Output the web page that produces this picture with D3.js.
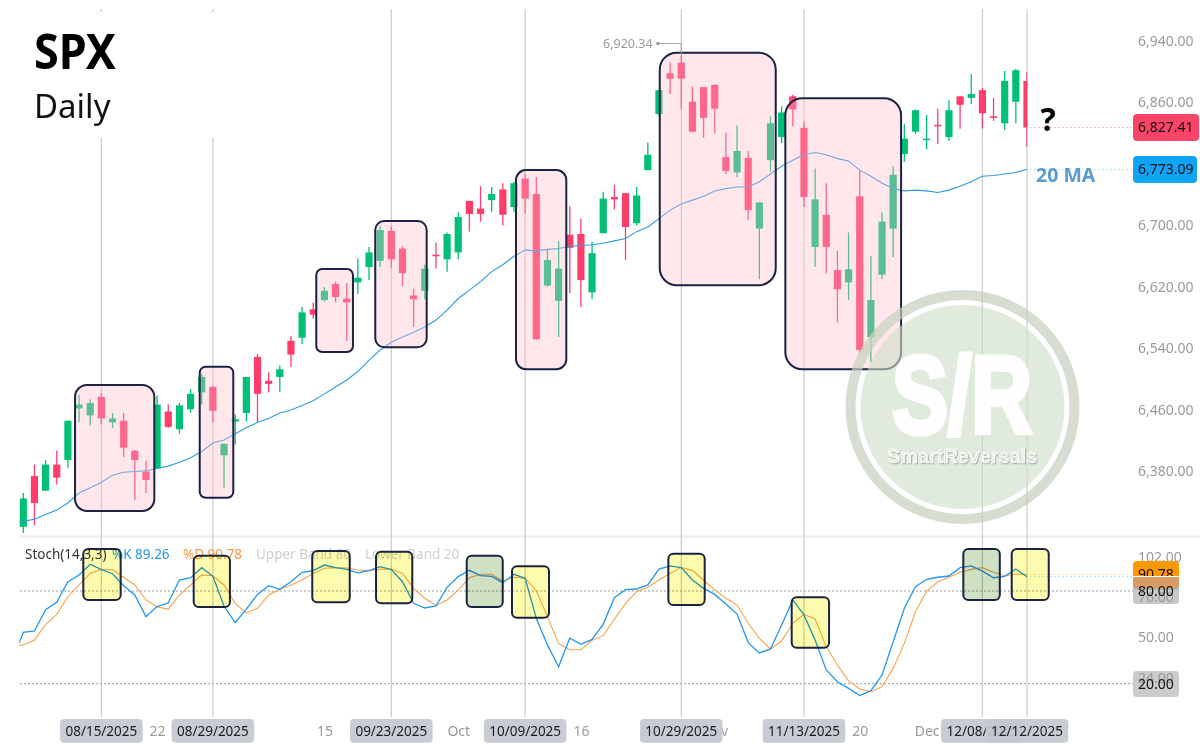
<!DOCTYPE html>
<html>
<head>
<meta charset="utf-8">
<title>SPX Daily</title>
<script src="https://cdn.jsdelivr.net/npm/d3@7"></script>
<style>
    body { margin: 0; background: #fff; }
    svg { display: block; font-family: "Noto Sans", sans-serif; }
</style>
</head>
<body>
<script>
'use strict';
// trading days, index 0 is 08/06/2025
const opens = [6308,6374,6355,6389,6395,6462,6453,6477,6444,6446,
    6407,6380,6384,6458,6435,6461,6483,6490,6401,6445,
    6456,6529,6498,6503,6550,6554,6591,6603,6624,6605,
    6626,6646,6654,6693,6670,6609,6615,6662,6656,6665,
    6732,6722,6733,6747,6724,6761,6741,6622,6602,6688,
    6689,6613,6690,6737,6742,6703,6772,6845,6898,6912,
    6861,6880,6883,6789,6769,6788,6696,6785,6815,6868,
    6827,6672,6714,6642,6626,6738,6555,6636,6696,6793,
    6822,6812,6831,6815,6868,6866,6876,6842,6833,6861,6888]
const highs = [6352,6389,6395,6407,6446,6480,6474,6482,6456,6456,
    6408,6394,6479,6467,6469,6487,6507,6492,6416,6454,
    6503,6533,6509,6518,6556,6594,6600,6620,6627,6625,
    6657,6672,6699,6699,6673,6618,6649,6678,6691,6718,
    6732,6751,6750,6755,6757,6767,6763,6668,6680,6725,
    6709,6679,6744,6753,6742,6750,6808,6876,6912,6920.34,
    6881,6880,6883,6821,6830,6797,6730,6842,6855,6870,
    6835,6774,6755,6667,6691,6771,6660,6717,6777,6832,
    6851,6844,6852,6863,6868,6897,6879,6866,6901,6904,6900]
const lows = [6300,6310,6355,6363,6385,6444,6440,6441,6437,6399,
    6343,6352,6384,6437,6429,6456,6467,6444,6359,6415,
    6445,6443,6483,6483,6516,6546,6579,6601,6600,6550,
    6611,6629,6646,6645,6621,6568,6604,6644,6640,6656,
    6692,6705,6718,6700,6718,6716,6551,6620,6555,6612,
    6594,6604,6690,6721,6655,6700,6772,6842,6871,6852,
    6821,6814,6820,6767,6763,6707,6630,6770,6807,6829,
    6724,6646,6638,6574,6603,6534,6522,6630,6659,6783,
    6819,6799,6806,6810,6826,6858,6826,6836,6824,6833,6802]
const closes = [6345,6339,6389,6372,6446,6467,6469,6449,6449,6411,
    6395,6369,6467,6438,6466,6481,6503,6459,6416,6448,
    6503,6481,6494,6513,6532,6587,6584,6615,6607,6600,
    6632,6665,6694,6656,6638,6604,6644,6660,6689,6711,
    6715,6715,6741,6714,6755,6735,6552,6655,6644,6671,
    6629,6664,6735,6734,6698,6739,6792,6876,6891,6891,
    6822,6840,6852,6771,6797,6720,6730,6833,6847,6851,
    6737,6734,6672,6617,6643,6538,6603,6705,6766,6813,
    6850,6813,6829,6850,6857,6871,6846,6840,6888,6902,6827.41]
// first value of the next three series is the day before index 0, cut off by the chart edge
const ma20 = [6313,6315,6318,6324,6330,6339,6352,6359,6366,6375,6379,
    6380,6381,6384,6387,6392,6398,6406,6417,6421,6429,
    6437,6444,6449,6456,6460,6466,6472,6481,6490,6499,
    6510,6525,6538,6548,6555,6561,6568,6577,6590,6605,
    6616,6627,6640,6649,6660,6668,6667,6669,6670,6673,
    6674,6675,6677,6680,6683,6692,6698,6709,6720,6728,
    6733,6738,6745,6748,6750,6750,6757,6767,6777,6785,
    6792,6795,6792,6787,6784,6772,6764,6755,6748,6745,
    6746,6745,6743,6746,6751,6757,6764,6765,6767,6769,6773.09]
const stochK = [35.1,53.3,54.1,67.9,72.7,86.0,90.4,97.3,93.8,91.2,83.4,
    77.4,63.4,69.9,72.4,87.1,88.6,95.1,89.5,70.1,59.5,
    68.3,77.8,83.4,81.1,86.0,92.1,93.2,96.8,95.1,94.0,
    91.7,93.2,95.8,93.8,86.0,72.0,69.0,70.3,82.4,89.3,
    93.4,89.9,89.5,85.4,90.8,88.2,62.3,45.1,31.0,49.4,
    45.5,48.7,58.6,75.7,80.9,81.3,83.9,94.2,96.2,95.1,
    87.1,81.7,77.8,71.6,65.1,46.6,39.9,42.5,58.0,74.2,
    64.5,48.3,28.9,21.3,17.0,12.3,15.5,25.6,47.2,68.8,
    82.8,87.6,88.9,89.7,95.1,96.2,92.9,88.6,89.5,94.2,89.26]
const stochD = [43.8,45.1,48.3,58.4,64.9,76.3,83.9,91.4,94.0,93.8,88.9,
    83.9,74.2,69.7,68.3,77.4,83.9,90.4,89.9,83.9,72.0,
    65.8,68.8,77.4,81.1,83.9,87.1,91.4,94.7,95.1,94.9,
    93.6,93.2,94.0,94.2,91.4,81.7,75.3,70.5,74.2,80.6,
    88.6,90.8,90.8,86.5,88.9,88.2,80.2,63.4,45.9,42.0,
    42.0,48.1,51.1,61.7,72.0,79.6,82.4,87.1,91.4,95.3,
    93.2,87.1,80.7,75.3,70.9,59.1,49.4,42.5,47.6,59.1,
    64.9,61.9,44.0,32.1,21.8,16.6,14.8,18.1,29.9,46.1,
    66.6,80.0,86.0,88.9,92.1,94.0,95.1,92.1,89.9,90.8,90.78]

const priceTicks = [6940,6860,6780,6700,6620,6540,6460,6380]
const stochTopTick = [102]
const stochTicks = [76,50,24]
const stochBands = [80,20]
const dateTicks = [12,27,39,50,56,62,75,81,93]
const dateTickLabels = ["22","15","Oct","16","24","Nov","20","Dec","17"]
const markedDays = [7,17,33,45,59,70,86,90]
const markedDates = ["08/15/2025","08/29/2025","09/23/2025","10/09/2025","10/29/2025","11/13/2025","12/08/2025","12/12/2025"]

// hand drawn boxes from the annotated screenshot: [first, high, last, low, radius] in chart units
const pinkBoxes = [[4.64,6492.5,11.75,6328.6,12],[15.82,6516.3,18.83,6345.9,6],[26.27,6643.4,29.56,6535.5,6],[31.56,6705.9,36.17,6541.6,9],
    [44.18,6772.2,48.69,6513,10],[57.07,6924.8,67.47,6622.2,17],[68.33,6865.5,78.71,6513,17]]
const noteBoxes = [[5.38,107.2,8.73,74.2,0],[15.28,102.8,18.53,69.6,0],[25.91,105.9,29.27,72.7,0],[31.63,105.4,34.88,72,0],
    [39.76,102.8,42.99,69.6,1],[43.82,96,47.14,62.7,0],[57.84,104.1,61.1,70.9,0],[68.9,75.9,72.25,43.3,0],
    [84.29,107.2,87.56,74.2,1],[88.63,107.2,91.95,74.2,0]]

const width = 1200
const height = 747

let svg = d3.select("body").append("svg").attr("width", width).attr("height", height)

let x = d3.scaleLinear().domain([0, 90]).range([23.3, 1027])
let y = d3.scaleLinear().domain([6940, 6380]).range([41, 471.5])
let yStoch = d3.scaleLinear().domain([0, 100]).range([714.6, 560.1])

svg.append("defs").append("clipPath").attr("id", "plot")
    .append("rect").attr("x", 19.3).attr("y", 0).attr("width", 1008).attr("height", 717)

// grid
svg.append("line").attr("x1", 20).attr("x2", width).attr("y1", 536.5).attr("y2", 536.5)
    .attr("stroke", "#ececec").attr("stroke-width", 2)

svg.append("g").selectAll("line")
    .data(markedDays)
    .enter()
    .append("line")
    .attr("x1", d => x(d)).attr("x2", d => x(d))
    .attr("y1", 9).attr("y2", 717)
    .attr("stroke", "#cfcfcf").attr("stroke-width", 1.3)

// title sits on a white patch that hides the top of the first lines
svg.append("rect").attr("y", 12).attr("width", 300).attr("height", 126).attr("fill", "#fff")
svg.append("text").text("SPX").attr("x", 34).attr("y", 69)
    .attr("textLength", 82).attr("lengthAdjust", "spacingAndGlyphs")
    .attr("font-size", 49).attr("font-weight", 700).attr("fill", "#000")
svg.append("text").text("Daily").attr("x", 34).attr("y", 118)
    .attr("font-size", 33).attr("fill", "#111")

// axes
function cleanAxis(g) {
    g.select(".domain").remove()
    g.selectAll("text").attr("fill", "#9a9a9a").attr("font-size", 14)
        .attr("font-family", '"Noto Sans", sans-serif').attr("x", 0)
}
let priceAxis = d3.axisRight(y).tickValues(priceTicks).tickFormat(d3.format(",.2f")).tickSize(0)
svg.append("g").attr("transform", "translate(1138,0)").call(priceAxis).call(cleanAxis)
let stochTopAxis = d3.axisRight(yStoch).tickValues(stochTopTick).tickFormat(d3.format(".2f")).tickSize(0)
svg.append("g").attr("transform", "translate(1138,0)").call(stochTopAxis).call(cleanAxis)
let dateAxis = d3.axisBottom(x).tickValues(dateTicks).tickFormat((d, i) => dateTickLabels[i]).tickSize(0)
svg.append("g").attr("transform", "translate(0,723)").call(dateAxis).call(cleanAxis)

// stochastic legend
const legendParts = [["Stoch(14,3,3)", 25, "#333"], ["%K 89.26", 112, "#2196f3"], ["%D 90.78", 183, "#f59a45"],
    ["Upper Band 80", 256, "#cfcfcf"], ["Lower Band 20", 365, "#cfcfcf"]]
svg.append("g").selectAll("text")
    .data(legendParts)
    .enter()
    .append("text")
    .text(d => d[0])
    .attr("x", d => d[1]).attr("y", 559)
    .attr("font-size", 13.5).attr("fill", d => d[2])

// bands
svg.append("g").selectAll("line")
    .data(stochBands)
    .enter()
    .append("line")
    .attr("x1", 20).attr("x2", 1133)
    .attr("y1", d => yStoch(d)).attr("y2", d => yStoch(d))
    .attr("stroke", "#9a9a9a").attr("stroke-dasharray", "2 2")

// dotted price lines towards the tags
const lastLines = [[y(closes[90]), "#f7c3cf"], [y(ma20[91]), "#bfe3fa"], [yStoch(stochD[91]), "#f8d9b5"], [yStoch(stochK[91]), "#bfe3fa"]]
svg.append("g").selectAll("line")
    .data(lastLines)
    .enter()
    .append("line")
    .attr("x1", 1030).attr("x2", 1133)
    .attr("y1", d => d[0]).attr("y2", d => d[0])
    .attr("stroke", d => d[1]).attr("stroke-dasharray", "2 2")

// candles
let plot = svg.append("g").attr("clip-path", "url(#plot)")
const green = "#00c077"
const red = "#ff3d6c"
let candle = plot.append("g").selectAll("g")
    .data(opens)
    .enter()
    .append("g")
    .attr("fill", (d, i) => closes[i] >= d ? green : red)
    .attr("stroke", (d, i) => closes[i] >= d ? green : red)
candle.append("line")
    .attr("x1", (d, i) => x(i)).attr("x2", (d, i) => x(i))
    .attr("y1", (d, i) => y(highs[i])).attr("y2", (d, i) => y(lows[i]))
    .attr("stroke-width", 1.3)
candle.append("rect")
    .attr("x", (d, i) => x(i) - 3.6).attr("width", 7.2)
    .attr("y", (d, i) => y(Math.max(d, closes[i])))
    .attr("height", (d, i) => Math.max(1.5, Math.abs(y(d) - y(closes[i]))))
    .attr("stroke", "none")

// moving average and stochastic lines
let maLine = d3.line().x((d, i) => x(i - 1)).y(d => y(d))
plot.append("path").datum(ma20).attr("d", maLine)
    .attr("fill", "none").attr("stroke", "#2d9be6").attr("stroke-width", 1.1)
let stochLine = d3.line().x((d, i) => x(i - 1)).y(d => yStoch(d))
plot.append("path").datum(stochD).attr("d", stochLine)
    .attr("fill", "none").attr("stroke", "#f7a24b").attr("stroke-width", 1.1)
plot.append("path").datum(stochK).attr("d", stochLine)
    .attr("fill", "none").attr("stroke", "#2196f3").attr("stroke-width", 1.3)

// pink boxes go over the candles and wash them out
svg.append("g").selectAll("rect")
    .data(pinkBoxes)
    .enter()
    .append("rect")
    .attr("x", d => x(d[0])).attr("y", d => y(d[1]))
    .attr("width", d => x(d[2]) - x(d[0])).attr("height", d => y(d[3]) - y(d[1]))
    .attr("rx", d => d[4])
    .attr("fill", "rgba(255,185,200,0.35)")
    .attr("stroke", "#1a2342").attr("stroke-width", 2)

svg.append("g").selectAll("rect")
    .data(noteBoxes)
    .enter()
    .append("rect")
    .attr("x", d => x(d[0])).attr("y", d => yStoch(d[1]))
    .attr("width", d => x(d[2]) - x(d[0])).attr("height", d => yStoch(d[3]) - yStoch(d[1]))
    .attr("rx", 5)
    .attr("fill", d => d[4] ? "#cfe0c3" : "#fdfcae")
    .style("mix-blend-mode", "multiply")
svg.append("g").selectAll("rect")
    .data(noteBoxes)
    .enter()
    .append("rect")
    .attr("x", d => x(d[0])).attr("y", d => yStoch(d[1]))
    .attr("width", d => x(d[2]) - x(d[0])).attr("height", d => yStoch(d[3]) - yStoch(d[1]))
    .attr("rx", 5)
    .attr("fill", "none")
    .attr("stroke", "#1a2342").attr("stroke-width", 2)

// high of the range
svg.append("text").text("6,920.34").attr("x", 603).attr("y", 47.5)
    .attr("font-size", 12.5).attr("fill", "#9a9a9a")
svg.append("path").attr("d", `M658,43.5H${x(59)}V${y(highs[59])}`)
    .attr("fill", "none").attr("stroke", "#a5a5a5")
svg.append("circle").attr("cx", 658).attr("cy", 43.5).attr("r", 1.8).attr("fill", "#9a9a9a")

// annotations
svg.append("text").text("?").attr("x", 1040.5).attr("y", 131)
    .attr("font-size", 32).attr("font-weight", 700).attr("fill", "#000")
svg.append("text").text("20 MA").attr("x", 1036).attr("y", 182)
    .attr("font-size", 19.5).attr("font-weight", 700).attr("fill", "#5b9bd5")

// last value tags, drawn in this order so they cover each other like the screenshot
function addTag(top, w, h, color, label, labelY) {
    svg.append("rect").attr("x", 1133).attr("y", top)
        .attr("width", w).attr("height", h).attr("rx", 4).attr("fill", color)
    if (label) {
        svg.append("text").text(label).attr("x", 1138).attr("y", labelY)
            .attr("dy", "0.35em").attr("font-size", 14).attr("fill", "#111")
    }
}
addTag(114, 66, 27, "#fb4468", "6,827.41", y(closes[90]))
addTag(156, 64, 27, "#0ea5f8", "6,773.09", y(ma20[91]))
addTag(561, 46, 28, "#ff9800", "90.78", yStoch(stochD[91]))
addTag(577, 46, 27, "#c9c9c9")
addTag(577, 46, 12, "#d99c68")
addTag(671, 46, 26, "#cbcbcb")
svg.append("line").attr("x1", 1133).attr("x2", 1179).attr("y1", 576.5).attr("y2", 576.5).attr("stroke", "#fff")
svg.append("line").attr("x1", 1133).attr("x2", 1179).attr("y1", 589.5).attr("y2", 589.5).attr("stroke", "#8ecbf0")
let stochAxis = d3.axisRight(yStoch).tickValues(stochTicks).tickFormat(d3.format(".2f")).tickSize(0)
svg.append("g").attr("transform", "translate(1138,0)").call(stochAxis).call(cleanAxis)
for (const band of stochBands) {
    svg.append("text").text(d3.format(".2f")(band)).attr("x", 1138).attr("y", yStoch(band))
        .attr("dy", "0.35em").attr("font-size", 14).attr("fill", "#111")
}

// date tags on the marked days
let dateTag = svg.append("g").selectAll("g")
    .data(markedDays)
    .enter()
    .append("g")
dateTag.append("rect")
    .attr("x", d => x(d) - 41.3).attr("y", 719)
    .attr("width", 82.6).attr("height", 23.7).attr("rx", 4)
    .attr("fill", "#c4c8d0").attr("fill-opacity", 0.92)
dateTag.append("text")
    .text((d, i) => markedDates[i])
    .attr("x", d => x(d)).attr("y", 731)
    .attr("dy", "0.35em").attr("text-anchor", "middle")
    .attr("font-size", 13.5).attr("fill", "#1c1c1c")

// watermark
let mark = svg.append("g")
mark.append("circle").attr("cx", 962.5).attr("cy", 407).attr("r", 112)
    .attr("fill", "none").attr("stroke", "rgb(198,208,190)").attr("stroke-width", 10).attr("stroke-opacity", 0.7)
mark.append("circle").attr("cx", 962.5).attr("cy", 407).attr("r", 102)
    .attr("fill", "rgb(205,221,198)").attr("fill-opacity", 0.6)
mark.append("text").text("S/R").attr("x", 892).attr("y", 433)
    .attr("textLength", 140).attr("lengthAdjust", "spacingAndGlyphs")
    .attr("font-family", '"Liberation Sans", sans-serif')
    .attr("font-size", 110).attr("font-weight", 700).attr("fill", "#fff").attr("fill-opacity", 0.95)
    .attr("stroke", "#fff").attr("stroke-width", 5).attr("stroke-opacity", 0.95)
mark.append("text").text("SmartReversals").attr("x", 887).attr("y", 463)
    .attr("textLength", 150).attr("lengthAdjust", "spacingAndGlyphs")
    .attr("font-family", '"Liberation Sans", sans-serif')
    .attr("font-size", 21).attr("font-weight", 700).attr("fill", "#fff")
    .attr("stroke", "#fff").attr("stroke-width", 0.7)
    .style("text-shadow", "1px 1px 1px rgba(120,130,110,0.5)")
</script>
</body>
</html>
